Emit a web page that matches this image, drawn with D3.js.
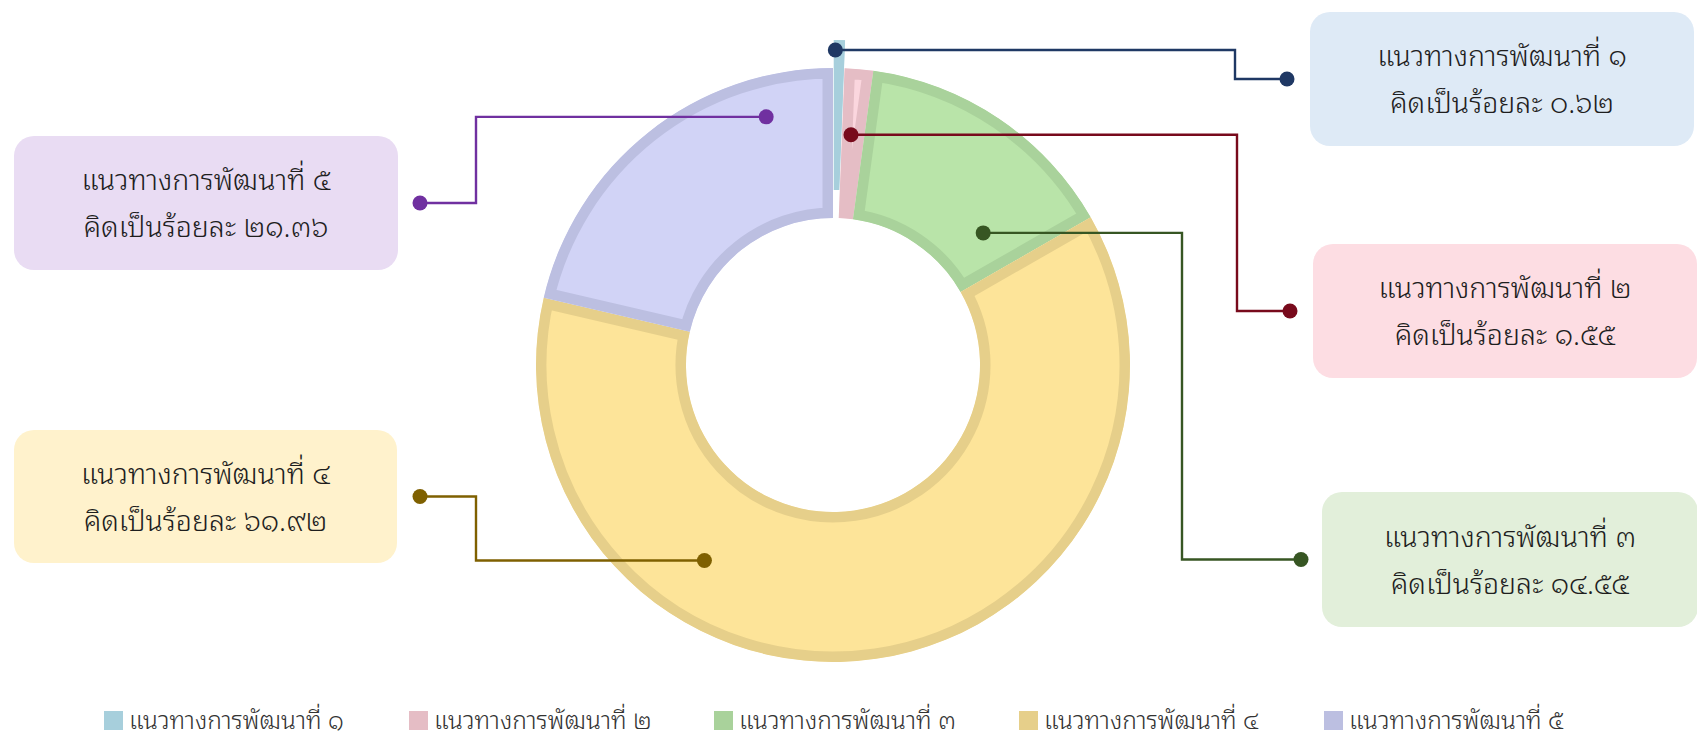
<!DOCTYPE html>
<html>
<head>
<meta charset="utf-8">
<script src="https://cdn.jsdelivr.net/npm/d3@7"></script>
<style>
	body { margin: 0; background: #fff; }
	svg text { font-family: "Noto Sans Thai Looped", "Loma", "Garuda", "Waree", "Sarabun", "Noto Sans Thai", "Tahoma", "Noto Sans", sans-serif; font-weight: 300; }
</style>
</head>
<body>
<svg id="chart" width="1697" height="739"></svg>
<script>
// data
var names = ['แนวทางการพัฒนาที่ ๑', 'แนวทางการพัฒนาที่ ๒', 'แนวทางการพัฒนาที่ ๓', 'แนวทางการพัฒนาที่ ๔', 'แนวทางการพัฒนาที่ ๕'];
var values = [0.62, 1.55, 14.55, 61.92, 21.36];
var valueLabels = ['๐.๖๒', '๑.๕๕', '๑๔.๕๕', '๖๑.๙๒', '๒๑.๓๖'];

// colours
var fills = ['#a7cfdc', '#fbd6de', '#b9e4a9', '#fde499', '#d1d3f6'];
var strokes = ['#a7cfdc', '#e5bdc5', '#a9d29b', '#e6cf8a', '#bcbfe1'];
var lineColors = ['#1f3864', '#780a1c', '#375623', '#7f6000', '#7030a0'];
var boxColors = ['#deeaf6', '#fddde3', '#e2efda', '#fff2cc', '#e9dcf3'];

// callout layout: where the dot sits inside the slice, the elbow, and the label box
var callouts = [
	{frac: 0.16, r: 287, elbowX: 1235, endX: 1287, box: [1310, 12, 384, 134]},
	{frac: 0.40, r: 231, elbowX: 1237, endX: 1290, box: [1313, 244, 384, 134]},
	{frac: 0.78, r: 200, elbowX: 1182, endX: 1301, box: [1322, 492, 376, 135]},
	{frac: 0.687, r: 234, elbowX: 476, endX: 420, box: [14, 430, 383, 133]},
	{frac: 0.804, r: 257, elbowX: 476, endX: 420, box: [14, 136, 384, 134]}
];

var cx = 833, cy = 365,
	outerR = 297, innerR = 147,
	explode = [28, 0, 0, 0, 0];

var svg = d3.select('#chart');
var defs = svg.append('defs');

var pie = d3.pie().sort(null).value(function(d) { return d; });
var arcs = pie(values);
var arc = d3.arc().innerRadius(innerR).outerRadius(outerR);

var g = svg.append('g').attr('transform', 'translate(' + cx + ',' + cy + ')');

arcs.forEach(function(a, i) {
	var mid = (a.startAngle + a.endAngle) / 2;
	var ox = Math.sin(mid) * explode[i], oy = -Math.cos(mid) * explode[i];
	defs.append('clipPath').attr('id', 'clip' + i)
		.append('path').attr('d', arc(a));
	g.append('path')
		.attr('transform', 'translate(' + ox + ',' + oy + ')')
		.attr('d', arc(a))
		.attr('clip-path', 'url(#clip' + i + ')')
		.attr('fill', fills[i])
		.attr('stroke', strokes[i])
		.attr('stroke-width', 21)
		.attr('stroke-linejoin', 'miter');
});

// callouts
arcs.forEach(function(a, i) {
	var c = callouts[i];
	var mid = (a.startAngle + a.endAngle) / 2;
	var ang = a.startAngle + (a.endAngle - a.startAngle) * c.frac;
	var sx = cx + Math.sin(mid) * explode[i] + Math.sin(ang) * c.r;
	var sy = cy - Math.cos(mid) * explode[i] - Math.cos(ang) * c.r;
	var bx = c.box[0], by = c.box[1], bw = c.box[2], bh = c.box[3];
	var ey = by + bh / 2;

	svg.append('rect')
		.attr('x', bx).attr('y', by)
		.attr('width', bw).attr('height', bh)
		.attr('rx', 20).attr('ry', 20)
		.attr('fill', boxColors[i]);
	var tx = bx + bw / 2;
	svg.append('text')
		.attr('x', tx).attr('y', ey - 13)
		.attr('text-anchor', 'middle')
		.attr('font-size', 28.5)
		.attr('fill', '#1e1e1e')
		.text(names[i]);
	svg.append('text')
		.attr('x', tx).attr('y', ey + 34)
		.attr('text-anchor', 'middle')
		.attr('font-size', 28.5)
		.attr('fill', '#1e1e1e')
		.text('คิดเป็นร้อยละ ' + valueLabels[i]);

	svg.append('path')
		.attr('d', 'M' + sx + ',' + sy + 'H' + c.elbowX + 'V' + ey + 'H' + c.endX)
		.attr('fill', 'none')
		.attr('stroke', lineColors[i])
		.attr('stroke-width', 2.4);
	svg.append('circle').attr('cx', sx).attr('cy', sy).attr('r', 7.5).attr('fill', lineColors[i]);
	svg.append('circle').attr('cx', c.endX).attr('cy', ey).attr('r', 7.5).attr('fill', lineColors[i]);
});

// legend
var legend = svg.append('g').attr('transform', 'translate(104,711)');
var item = legend.selectAll('g').data(names).enter().append('g')
	.attr('transform', function(d, i) { return 'translate(' + (i * 305) + ',0)'; });
item.append('rect')
	.attr('width', 19).attr('height', 19)
	.attr('fill', function(d, i) { return strokes[i]; });
item.append('text')
	.attr('x', 25).attr('y', 18)
	.attr('font-size', 24.5)
	.attr('fill', '#333')
	.text(function(d) { return d; });
</script>
</body>
</html>
